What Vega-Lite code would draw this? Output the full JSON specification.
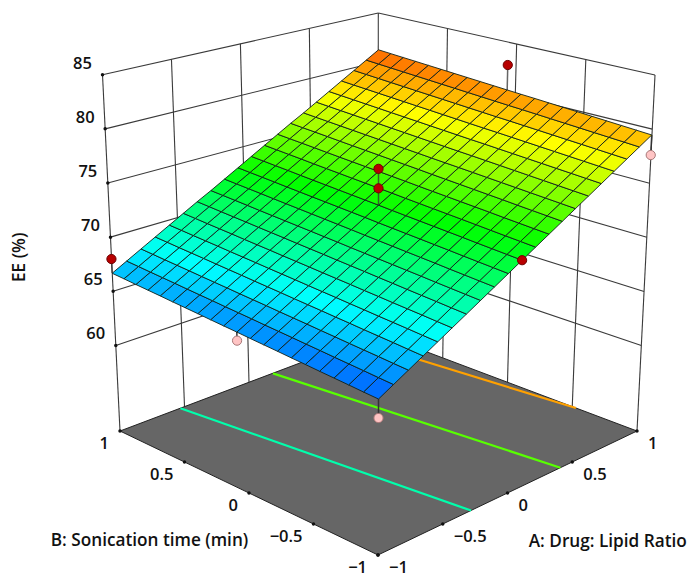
{"$schema":"https://vega.github.io/schema/vega-lite/v6.json","width":689,"height":577,"padding":0,"autosize":{"type":"none"},"background":"white","config":{"view":{"stroke":null}},
"datasets":{
"frame":[
{"kind":"line","id":1,"a":-1,"b":1,"ee":60},{"kind":"line","id":1,"a":1,"b":1,"ee":60},{"kind":"line","id":2,"a":-1,"b":1,"ee":65},{"kind":"line","id":2,"a":1,"b":1,"ee":65},{"kind":"line","id":3,"a":-1,"b":1,"ee":70},{"kind":"line","id":3,"a":1,"b":1,"ee":70},{"kind":"line","id":4,"a":-1,"b":1,"ee":75},{"kind":"line","id":4,"a":1,"b":1,"ee":75},{"kind":"line","id":5,"a":-1,"b":1,"ee":80},{"kind":"line","id":5,"a":1,"b":1,"ee":80},{"kind":"line","id":6,"a":-1,"b":1,"ee":85},{"kind":"line","id":6,"a":1,"b":1,"ee":85},
{"kind":"line","id":7,"a":1,"b":1,"ee":60},{"kind":"line","id":7,"a":1,"b":-1,"ee":60},{"kind":"line","id":8,"a":1,"b":1,"ee":65},{"kind":"line","id":8,"a":1,"b":-1,"ee":65},{"kind":"line","id":9,"a":1,"b":1,"ee":70},{"kind":"line","id":9,"a":1,"b":-1,"ee":70},{"kind":"line","id":10,"a":1,"b":1,"ee":75},{"kind":"line","id":10,"a":1,"b":-1,"ee":75},{"kind":"line","id":11,"a":1,"b":1,"ee":80},{"kind":"line","id":11,"a":1,"b":-1,"ee":80},{"kind":"line","id":12,"a":1,"b":1,"ee":85},{"kind":"line","id":12,"a":1,"b":-1,"ee":85},
{"kind":"line","id":13,"a":-1,"b":1,"ee":52.1},{"kind":"line","id":13,"a":-1,"b":1,"ee":85},{"kind":"line","id":14,"a":-0.5,"b":1,"ee":52.1},{"kind":"line","id":14,"a":-0.5,"b":1,"ee":85},{"kind":"line","id":15,"a":0,"b":1,"ee":52.1},{"kind":"line","id":15,"a":0,"b":1,"ee":85},{"kind":"line","id":16,"a":0.5,"b":1,"ee":52.1},{"kind":"line","id":16,"a":0.5,"b":1,"ee":85},{"kind":"line","id":17,"a":1,"b":1,"ee":52.1},{"kind":"line","id":17,"a":1,"b":1,"ee":85},
{"kind":"line","id":18,"a":1,"b":0.5,"ee":52.1},{"kind":"line","id":18,"a":1,"b":0.5,"ee":85},{"kind":"line","id":19,"a":1,"b":0,"ee":52.1},{"kind":"line","id":19,"a":1,"b":0,"ee":85},{"kind":"line","id":20,"a":1,"b":-0.5,"ee":52.1},{"kind":"line","id":20,"a":1,"b":-0.5,"ee":85},{"kind":"line","id":21,"a":1,"b":-1,"ee":52.1},{"kind":"line","id":21,"a":1,"b":-1,"ee":85},
{"kind":"floor","k":0,"a":-1,"b":-1,"ee":52.1},{"kind":"floor","k":1,"a":1,"b":-1,"ee":52.1},{"kind":"floor","k":2,"a":1,"b":1,"ee":52.1},{"kind":"floor","k":3,"a":-1,"b":1,"ee":52.1},
{"kind":"tz","label":"85","a":-1,"b":1,"ee":85},{"kind":"tz","label":"80","a":-1,"b":1,"ee":80},{"kind":"tz","label":"75","a":-1,"b":1,"ee":75},{"kind":"tz","label":"70","a":-1,"b":1,"ee":70},{"kind":"tz","label":"65","a":-1,"b":1,"ee":65},{"kind":"tz","label":"60","a":-1,"b":1,"ee":60},
{"kind":"tb","label":"1","a":-1,"b":1,"ee":52.1},{"kind":"tb","label":"0.5","a":-1,"b":0.5,"ee":52.1},{"kind":"tb","label":"0","a":-1,"b":0,"ee":52.1},{"kind":"tb","label":"−0.5","a":-1,"b":-0.5,"ee":52.1},{"kind":"tb","label":"−1","a":-1,"b":-1,"ee":52.1},
{"kind":"ta","label":"1","a":1,"b":-1,"ee":52.1},{"kind":"ta","label":"0.5","a":0.5,"b":-1,"ee":52.1},{"kind":"ta","label":"0","a":0,"b":-1,"ee":52.1},{"kind":"ta","label":"−0.5","a":-0.5,"b":-1,"ee":52.1},{"kind":"ta","label":"−1","a":-1,"b":-1,"ee":52.1},
{"kind":"titleA","label":"A: Drug: Lipid Ratio","a":0.5,"b":-1,"ee":52.1},{"kind":"titleB","label":"B: Sonication time (min)","a":-1,"b":0.5,"ee":52.1},{"kind":"titleZ","label":"EE (%)","a":-1,"b":1,"ee":65}
],
"obs":[
{"kind":"contour","id":"c70","level":70,"a":-0.341,"b":-1,"ee":51.56,"above":false},{"kind":"contour","id":"c70","level":70,"a":-0.572,"b":1,"ee":51.56,"above":false},
{"kind":"contour","id":"c75","level":75,"a":0.353,"b":-1,"ee":51.56,"above":false},{"kind":"contour","id":"c75","level":75,"a":0.128,"b":1,"ee":51.56,"above":false},
{"kind":"contour","id":"c80","level":80,"a":1,"b":-0.567,"ee":51.56,"above":false},{"kind":"contour","id":"c80","level":80,"a":0.828,"b":1,"ee":51.56,"above":false},
{"kind":"stem","id":"p1","a":-1,"b":-1,"ee":63.63,"above":false},{"kind":"stem","id":"p1","a":-1,"b":-1,"ee":65.25,"above":false},
{"kind":"stem","id":"p2","a":1,"b":-1,"ee":77.85,"above":false},{"kind":"stem","id":"p2","a":1,"b":-1,"ee":79.66,"above":false},
{"kind":"stem","id":"p4","a":-1,"b":0,"ee":65.32,"above":false},{"kind":"stem","id":"p4","a":-1,"b":0,"ee":66.1,"above":false},
{"kind":"stem","id":"p3","a":-1,"b":1,"ee":68.26,"above":true},{"kind":"stem","id":"p3","a":-1,"b":1,"ee":66.94,"above":true},
{"kind":"stem","id":"p6","a":1,"b":0,"ee":82.8,"above":true},{"kind":"stem","id":"p6","a":1,"b":0,"ee":80.45,"above":true},
{"kind":"stem","id":"p7","a":0,"b":0,"ee":76.6,"above":true},{"kind":"stem","id":"p7","a":0,"b":0,"ee":73.28,"above":true},
{"kind":"point","id":"p1","a":-1,"b":-1,"ee":63.63,"above":false},{"kind":"point","id":"p2","a":1,"b":-1,"ee":77.85,"above":false},{"kind":"point","id":"p4","a":-1,"b":0,"ee":65.32,"above":false},
{"kind":"point","id":"p3","a":-1,"b":1,"ee":68.26,"above":true},{"kind":"point","id":"p5","a":0,"b":-1,"ee":72.46,"above":true},{"kind":"point","id":"p6","a":1,"b":0,"ee":82.8,"above":true},{"kind":"point","id":"p7","a":0,"b":0,"ee":76.6,"above":true},{"kind":"point","id":"p8","a":0,"b":0,"ee":74.82,"above":true}
],
"nodes":[
{"id":0,"ee":65.25},{"id":100,"ee":65.97},{"id":200,"ee":66.69},{"id":300,"ee":67.41},{"id":400,"ee":68.13},{"id":500,"ee":68.85},{"id":600,"ee":69.57},{"id":700,"ee":70.29},{"id":800,"ee":71.01},{"id":900,"ee":71.73},{"id":1000,"ee":72.46},{"id":1100,"ee":73.18},{"id":1200,"ee":73.9},{"id":1300,"ee":74.62},{"id":1400,"ee":75.34},{"id":1500,"ee":76.06},{"id":1600,"ee":76.78},{"id":1700,"ee":77.5},{"id":1800,"ee":78.22},{"id":1900,"ee":78.94},{"id":2000,"ee":79.66},
{"id":1,"ee":65.33},{"id":101,"ee":66.05},{"id":201,"ee":66.77},{"id":301,"ee":67.49},{"id":401,"ee":68.21},{"id":501,"ee":68.93},{"id":601,"ee":69.65},{"id":701,"ee":70.37},{"id":801,"ee":71.09},{"id":901,"ee":71.81},{"id":1001,"ee":72.54},{"id":1101,"ee":73.26},{"id":1201,"ee":73.98},{"id":1301,"ee":74.7},{"id":1401,"ee":75.42},{"id":1501,"ee":76.14},{"id":1601,"ee":76.86},{"id":1701,"ee":77.58},{"id":1801,"ee":78.3},{"id":1901,"ee":79.02},{"id":2001,"ee":79.74},
{"id":2,"ee":65.42},{"id":102,"ee":66.14},{"id":202,"ee":66.86},{"id":302,"ee":67.58},{"id":402,"ee":68.3},{"id":502,"ee":69.02},{"id":602,"ee":69.74},{"id":702,"ee":70.45},{"id":802,"ee":71.17},{"id":902,"ee":71.89},{"id":1002,"ee":72.62},{"id":1102,"ee":73.34},{"id":1202,"ee":74.06},{"id":1302,"ee":74.78},{"id":1402,"ee":75.5},{"id":1502,"ee":76.22},{"id":1602,"ee":76.94},{"id":1702,"ee":77.66},{"id":1802,"ee":78.38},{"id":1902,"ee":79.1},{"id":2002,"ee":79.82},
{"id":3,"ee":65.5},{"id":103,"ee":66.22},{"id":203,"ee":66.94},{"id":303,"ee":67.66},{"id":403,"ee":68.38},{"id":503,"ee":69.1},{"id":603,"ee":69.82},{"id":703,"ee":70.53},{"id":803,"ee":71.25},{"id":903,"ee":71.97},{"id":1003,"ee":72.7},{"id":1103,"ee":73.42},{"id":1203,"ee":74.14},{"id":1303,"ee":74.86},{"id":1403,"ee":75.58},{"id":1503,"ee":76.3},{"id":1603,"ee":77.02},{"id":1703,"ee":77.74},{"id":1803,"ee":78.46},{"id":1903,"ee":79.18},{"id":2003,"ee":79.9},
{"id":4,"ee":65.58},{"id":104,"ee":66.3},{"id":204,"ee":67.02},{"id":304,"ee":67.74},{"id":404,"ee":68.46},{"id":504,"ee":69.18},{"id":604,"ee":69.9},{"id":704,"ee":70.62},{"id":804,"ee":71.34},{"id":904,"ee":72.06},{"id":1004,"ee":72.79},{"id":1104,"ee":73.51},{"id":1204,"ee":74.23},{"id":1304,"ee":74.95},{"id":1404,"ee":75.66},{"id":1504,"ee":76.38},{"id":1604,"ee":77.1},{"id":1704,"ee":77.82},{"id":1804,"ee":78.54},{"id":1904,"ee":79.26},{"id":2004,"ee":79.98},
{"id":5,"ee":65.67},{"id":105,"ee":66.39},{"id":205,"ee":67.11},{"id":305,"ee":67.83},{"id":405,"ee":68.55},{"id":505,"ee":69.27},{"id":605,"ee":69.99},{"id":705,"ee":70.7},{"id":805,"ee":71.42},{"id":905,"ee":72.14},{"id":1005,"ee":72.87},{"id":1105,"ee":73.59},{"id":1205,"ee":74.31},{"id":1305,"ee":75.03},{"id":1405,"ee":75.74},{"id":1505,"ee":76.46},{"id":1605,"ee":77.18},{"id":1705,"ee":77.9},{"id":1805,"ee":78.62},{"id":1905,"ee":79.34},{"id":2005,"ee":80.06},
{"id":6,"ee":65.75},{"id":106,"ee":66.47},{"id":206,"ee":67.19},{"id":306,"ee":67.91},{"id":406,"ee":68.63},{"id":506,"ee":69.35},{"id":606,"ee":70.07},{"id":706,"ee":70.78},{"id":806,"ee":71.5},{"id":906,"ee":72.22},{"id":1006,"ee":72.95},{"id":1106,"ee":73.67},{"id":1206,"ee":74.39},{"id":1306,"ee":75.11},{"id":1406,"ee":75.82},{"id":1506,"ee":76.54},{"id":1606,"ee":77.26},{"id":1706,"ee":77.98},{"id":1806,"ee":78.7},{"id":1906,"ee":79.42},{"id":2006,"ee":80.14},
{"id":7,"ee":65.84},{"id":107,"ee":66.56},{"id":207,"ee":67.28},{"id":307,"ee":68},{"id":407,"ee":68.72},{"id":507,"ee":69.44},{"id":607,"ee":70.16},{"id":707,"ee":70.86},{"id":807,"ee":71.58},{"id":907,"ee":72.3},{"id":1007,"ee":73.03},{"id":1107,"ee":73.75},{"id":1207,"ee":74.47},{"id":1307,"ee":75.19},{"id":1407,"ee":75.9},{"id":1507,"ee":76.62},{"id":1607,"ee":77.34},{"id":1707,"ee":78.06},{"id":1807,"ee":78.78},{"id":1907,"ee":79.5},{"id":2007,"ee":80.22},
{"id":8,"ee":65.92},{"id":108,"ee":66.64},{"id":208,"ee":67.36},{"id":308,"ee":68.08},{"id":408,"ee":68.8},{"id":508,"ee":69.52},{"id":608,"ee":70.24},{"id":708,"ee":70.94},{"id":808,"ee":71.66},{"id":908,"ee":72.38},{"id":1008,"ee":73.11},{"id":1108,"ee":73.83},{"id":1208,"ee":74.55},{"id":1308,"ee":75.27},{"id":1408,"ee":75.98},{"id":1508,"ee":76.7},{"id":1608,"ee":77.42},{"id":1708,"ee":78.14},{"id":1808,"ee":78.86},{"id":1908,"ee":79.58},{"id":2008,"ee":80.3},
{"id":9,"ee":66},{"id":109,"ee":66.72},{"id":209,"ee":67.44},{"id":309,"ee":68.16},{"id":409,"ee":68.88},{"id":509,"ee":69.6},{"id":609,"ee":70.32},{"id":709,"ee":71.02},{"id":809,"ee":71.74},{"id":909,"ee":72.46},{"id":1009,"ee":73.19},{"id":1109,"ee":73.91},{"id":1209,"ee":74.63},{"id":1309,"ee":75.35},{"id":1409,"ee":76.05},{"id":1509,"ee":76.77},{"id":1609,"ee":77.49},{"id":1709,"ee":78.21},{"id":1809,"ee":78.93},{"id":1909,"ee":79.65},{"id":2009,"ee":80.37},
{"id":10,"ee":66.09},{"id":110,"ee":66.81},{"id":210,"ee":67.53},{"id":310,"ee":68.25},{"id":410,"ee":68.97},{"id":510,"ee":69.69},{"id":610,"ee":70.41},{"id":710,"ee":71.11},{"id":810,"ee":71.83},{"id":910,"ee":72.55},{"id":1010,"ee":73.28},{"id":1110,"ee":74},{"id":1210,"ee":74.72},{"id":1310,"ee":75.44},{"id":1410,"ee":76.13},{"id":1510,"ee":76.85},{"id":1610,"ee":77.57},{"id":1710,"ee":78.29},{"id":1810,"ee":79.01},{"id":1910,"ee":79.73},{"id":2010,"ee":80.45},
{"id":11,"ee":66.17},{"id":111,"ee":66.89},{"id":211,"ee":67.61},{"id":311,"ee":68.33},{"id":411,"ee":69.05},{"id":511,"ee":69.77},{"id":611,"ee":70.49},{"id":711,"ee":71.19},{"id":811,"ee":71.91},{"id":911,"ee":72.63},{"id":1011,"ee":73.36},{"id":1111,"ee":74.08},{"id":1211,"ee":74.8},{"id":1311,"ee":75.52},{"id":1411,"ee":76.21},{"id":1511,"ee":76.93},{"id":1611,"ee":77.65},{"id":1711,"ee":78.37},{"id":1811,"ee":79.09},{"id":1911,"ee":79.81},{"id":2011,"ee":80.53},
{"id":12,"ee":66.25},{"id":112,"ee":66.97},{"id":212,"ee":67.69},{"id":312,"ee":68.41},{"id":412,"ee":69.13},{"id":512,"ee":69.85},{"id":612,"ee":70.57},{"id":712,"ee":71.27},{"id":812,"ee":71.99},{"id":912,"ee":72.71},{"id":1012,"ee":73.44},{"id":1112,"ee":74.16},{"id":1212,"ee":74.88},{"id":1312,"ee":75.6},{"id":1412,"ee":76.29},{"id":1512,"ee":77.01},{"id":1612,"ee":77.73},{"id":1712,"ee":78.45},{"id":1812,"ee":79.17},{"id":1912,"ee":79.89},{"id":2012,"ee":80.61},
{"id":13,"ee":66.34},{"id":113,"ee":67.06},{"id":213,"ee":67.78},{"id":313,"ee":68.5},{"id":413,"ee":69.22},{"id":513,"ee":69.94},{"id":613,"ee":70.66},{"id":713,"ee":71.35},{"id":813,"ee":72.07},{"id":913,"ee":72.79},{"id":1013,"ee":73.52},{"id":1113,"ee":74.24},{"id":1213,"ee":74.96},{"id":1313,"ee":75.68},{"id":1413,"ee":76.37},{"id":1513,"ee":77.09},{"id":1613,"ee":77.81},{"id":1713,"ee":78.53},{"id":1813,"ee":79.25},{"id":1913,"ee":79.97},{"id":2013,"ee":80.69},
{"id":14,"ee":66.42},{"id":114,"ee":67.14},{"id":214,"ee":67.86},{"id":314,"ee":68.58},{"id":414,"ee":69.3},{"id":514,"ee":70.02},{"id":614,"ee":70.74},{"id":714,"ee":71.43},{"id":814,"ee":72.15},{"id":914,"ee":72.87},{"id":1014,"ee":73.6},{"id":1114,"ee":74.32},{"id":1214,"ee":75.04},{"id":1314,"ee":75.76},{"id":1414,"ee":76.45},{"id":1514,"ee":77.17},{"id":1614,"ee":77.89},{"id":1714,"ee":78.61},{"id":1814,"ee":79.33},{"id":1914,"ee":80.05},{"id":2014,"ee":80.77},
{"id":15,"ee":66.5},{"id":115,"ee":67.22},{"id":215,"ee":67.94},{"id":315,"ee":68.66},{"id":415,"ee":69.38},{"id":515,"ee":70.1},{"id":615,"ee":70.82},{"id":715,"ee":71.51},{"id":815,"ee":72.23},{"id":915,"ee":72.95},{"id":1015,"ee":73.68},{"id":1115,"ee":74.4},{"id":1215,"ee":75.12},{"id":1315,"ee":75.84},{"id":1415,"ee":76.53},{"id":1515,"ee":77.25},{"id":1615,"ee":77.97},{"id":1715,"ee":78.69},{"id":1815,"ee":79.41},{"id":1915,"ee":80.13},{"id":2015,"ee":80.85},
{"id":16,"ee":66.59},{"id":116,"ee":67.31},{"id":216,"ee":68.03},{"id":316,"ee":68.75},{"id":416,"ee":69.47},{"id":516,"ee":70.19},{"id":616,"ee":70.91},{"id":716,"ee":71.59},{"id":816,"ee":72.31},{"id":916,"ee":73.03},{"id":1016,"ee":73.76},{"id":1116,"ee":74.48},{"id":1216,"ee":75.2},{"id":1316,"ee":75.92},{"id":1416,"ee":76.61},{"id":1516,"ee":77.33},{"id":1616,"ee":78.05},{"id":1716,"ee":78.77},{"id":1816,"ee":79.49},{"id":1916,"ee":80.21},{"id":2016,"ee":80.93},
{"id":17,"ee":66.67},{"id":117,"ee":67.39},{"id":217,"ee":68.11},{"id":317,"ee":68.83},{"id":417,"ee":69.55},{"id":517,"ee":70.27},{"id":617,"ee":70.99},{"id":717,"ee":71.68},{"id":817,"ee":72.4},{"id":917,"ee":73.12},{"id":1017,"ee":73.85},{"id":1117,"ee":74.57},{"id":1217,"ee":75.29},{"id":1317,"ee":76.01},{"id":1417,"ee":76.69},{"id":1517,"ee":77.41},{"id":1617,"ee":78.13},{"id":1717,"ee":78.85},{"id":1817,"ee":79.57},{"id":1917,"ee":80.29},{"id":2017,"ee":81.01},
{"id":18,"ee":66.75},{"id":118,"ee":67.47},{"id":218,"ee":68.19},{"id":318,"ee":68.91},{"id":418,"ee":69.63},{"id":518,"ee":70.35},{"id":618,"ee":71.07},{"id":718,"ee":71.76},{"id":818,"ee":72.48},{"id":918,"ee":73.2},{"id":1018,"ee":73.93},{"id":1118,"ee":74.65},{"id":1218,"ee":75.37},{"id":1318,"ee":76.09},{"id":1418,"ee":76.77},{"id":1518,"ee":77.49},{"id":1618,"ee":78.21},{"id":1718,"ee":78.93},{"id":1818,"ee":79.65},{"id":1918,"ee":80.37},{"id":2018,"ee":81.09},
{"id":19,"ee":66.84},{"id":119,"ee":67.56},{"id":219,"ee":68.28},{"id":319,"ee":69},{"id":419,"ee":69.72},{"id":519,"ee":70.44},{"id":619,"ee":71.16},{"id":719,"ee":71.84},{"id":819,"ee":72.56},{"id":919,"ee":73.28},{"id":1019,"ee":74.01},{"id":1119,"ee":74.73},{"id":1219,"ee":75.45},{"id":1319,"ee":76.17},{"id":1419,"ee":76.85},{"id":1519,"ee":77.57},{"id":1619,"ee":78.29},{"id":1719,"ee":79.01},{"id":1819,"ee":79.73},{"id":1919,"ee":80.45},{"id":2019,"ee":81.17},
{"id":20,"ee":66.92},{"id":120,"ee":67.64},{"id":220,"ee":68.36},{"id":320,"ee":69.08},{"id":420,"ee":69.8},{"id":520,"ee":70.52},{"id":620,"ee":71.24},{"id":720,"ee":71.92},{"id":820,"ee":72.64},{"id":920,"ee":73.36},{"id":1020,"ee":74.09},{"id":1120,"ee":74.81},{"id":1220,"ee":75.53},{"id":1320,"ee":76.25},{"id":1420,"ee":76.93},{"id":1520,"ee":77.65},{"id":1620,"ee":78.37},{"id":1720,"ee":79.09},{"id":1820,"ee":79.81},{"id":1920,"ee":80.53},{"id":2020,"ee":81.25}
]},
"encoding":{"x":{"field":"sx","type":"quantitative","scale":{"domain":[0,689],"nice":false,"zero":false},"axis":null},"y":{"field":"sy","type":"quantitative","scale":{"domain":[577,0],"nice":false,"zero":false},"axis":null}},
"layer":[
{"data":{"name":"frame"},
"transform":[{"calculate":"(datum.a+1)/2","as":"s"},{"calculate":"(datum.b+1)/2","as":"r"},{"calculate":"(datum.ee-52.1)/32.9","as":"t"},
{"calculate":"(1-datum.s)*(1-datum.r)*378+datum.s*(1-datum.r)*(637+18*datum.t)+(1-datum.s)*datum.r*(120-17.5*datum.t)+datum.s*datum.r*(378+0.3*datum.t)","as":"sx"},
{"calculate":"(1-datum.s)*(1-datum.r)*(555-399*datum.t)+datum.s*(1-datum.r)*(431-356*datum.t)+(1-datum.s)*datum.r*(431-356.3*datum.t)+datum.s*datum.r*(333.5-320.5*datum.t)","as":"sy"}],
"layer":[
{"transform":[{"filter":"datum.kind=='line'"}],"mark":{"type":"line","stroke":"#3a3a3a","strokeWidth":1.1},"encoding":{"detail":{"field":"id"}}},
{"transform":[{"filter":"datum.kind=='floor'"}],"mark":{"type":"line","interpolate":"linear-closed","fill":"#666666","stroke":"#222222","strokeWidth":1},"encoding":{"order":{"field":"k"}}},
{"transform":[{"filter":"datum.kind=='tz'||datum.kind=='ta'||datum.kind=='tb'"}],"mark":{"type":"point","filled":true,"color":"#111111","size":12,"opacity":1}},
{"transform":[{"filter":"datum.kind=='tz'"}],"mark":{"type":"text","font":"Open Sans","fontWeight":600,"fontSize":16.5,"fill":"#111","dx":-20,"dy":-11,"align":"center","baseline":"middle"},"encoding":{"text":{"field":"label"}}},
{"transform":[{"filter":"datum.kind=='tb'"}],"mark":{"type":"text","font":"Open Sans","fontWeight":600,"fontSize":16.5,"fill":"#111","dx":-11,"dy":12.5,"align":"right","baseline":"middle"},"encoding":{"text":{"field":"label"}}},
{"transform":[{"filter":"datum.kind=='ta'"}],"mark":{"type":"text","font":"Open Sans","fontWeight":600,"fontSize":16.5,"fill":"#111","dx":11,"dy":12.5,"align":"left","baseline":"middle"},"encoding":{"text":{"field":"label"}}},
{"transform":[{"filter":"datum.kind=='titleA'"}],"mark":{"type":"text","font":"Open Sans","fontWeight":600,"fontSize":17.2,"fill":"#111","dx":35.5,"dy":79.5,"align":"center","baseline":"middle"},"encoding":{"text":{"field":"label"}}},
{"transform":[{"filter":"datum.kind=='titleB'"}],"mark":{"type":"text","font":"Open Sans","fontWeight":600,"fontSize":17.2,"fill":"#111","dx":-35,"dy":78.5,"align":"center","baseline":"middle"},"encoding":{"text":{"field":"label"}}},
{"transform":[{"filter":"datum.kind=='titleZ'"}],"mark":{"type":"text","font":"Open Sans","fontWeight":600,"fontSize":17.2,"fill":"#111","dx":34,"dy":-93,"angle":270,"align":"center","baseline":"middle"},"encoding":{"text":{"field":"label"}}}
]},
{"data":{"name":"obs"},
"transform":[{"filter":"!datum.above"},{"calculate":"(datum.ee-51.56)*0.0299","as":"t"},{"calculate":"1+0.0598*(datum.a+datum.b)-0.0642*datum.t","as":"w"},{"calculate":"378.5+129.25*(datum.a-datum.b)/datum.w","as":"sx"},{"calculate":"(431-28.8*(datum.a+datum.b)-361*datum.t)/datum.w","as":"sy"}],
"layer":[
{"transform":[{"filter":"datum.kind=='contour'"}],"mark":{"type":"line","strokeWidth":2.2},"encoding":{"detail":{"field":"id"},"stroke":{"field":"level","type":"quantitative","legend":null,"scale":{"domain":[63.5,68.4,73.3,78.2,83.1],"range":["#0000ff","#00ffff","#00ff00","#ffff00","#ff0000"],"interpolate":"rgb"}}}},
{"transform":[{"filter":"datum.kind=='stem'"}],"mark":{"type":"line","stroke":"#333333","strokeWidth":1.5},"encoding":{"detail":{"field":"id"}}},
{"transform":[{"filter":"datum.kind=='point'"}],"mark":{"type":"point","filled":true,"fill":"#ffc4c4","stroke":"#a87878","strokeWidth":1,"size":85,"opacity":1}}
]},
{"data":{"name":"nodes"},
"transform":[{"calculate":"floor(datum.id/100)","as":"i"},{"calculate":"datum.id%100","as":"j"},{"filter":"datum.i<20&&datum.j<20"},{"calculate":"[0,1,2,3]","as":"k"},{"flatten":["k"]},{"calculate":"datum.i+((datum.k==1||datum.k==2)?1:0)","as":"vi"},{"calculate":"datum.j+(datum.k>=2?1:0)","as":"vj"},{"calculate":"datum.vi*100+datum.vj","as":"vid"},{"lookup":"vid","from":{"data":{"name":"nodes"},"key":"id","fields":["ee"]},"as":["vee"]},{"joinaggregate":[{"op":"mean","field":"vee","as":"cz"}],"groupby":["id"]},
{"calculate":"datum.vi/10-1","as":"a"},{"calculate":"datum.vj/10-1","as":"b"},{"calculate":"(datum.vee-51.56)*0.0299","as":"t"},{"calculate":"1+0.0598*(datum.a+datum.b)-0.0642*datum.t","as":"w"},{"calculate":"378.5+129.25*(datum.a-datum.b)/datum.w","as":"sx"},{"calculate":"(431-28.8*(datum.a+datum.b)-361*datum.t)/datum.w","as":"sy"}],
"mark":{"type":"line","interpolate":"linear-closed","stroke":"#10201a","strokeWidth":0.9},
"encoding":{"detail":{"field":"id"},"order":{"field":"k"},"fill":{"field":"cz","type":"quantitative","legend":null,"scale":{"domain":[63.5,68.4,73.3,78.2,83.1],"range":["#0000ff","#00ffff","#00ff00","#ffff00","#ff0000"],"interpolate":"rgb"}}}},
{"data":{"name":"obs"},
"transform":[{"filter":"datum.above"},{"calculate":"(datum.ee-51.56)*0.0299","as":"t"},{"calculate":"1+0.0598*(datum.a+datum.b)-0.0642*datum.t","as":"w"},{"calculate":"378.5+129.25*(datum.a-datum.b)/datum.w","as":"sx"},{"calculate":"(431-28.8*(datum.a+datum.b)-361*datum.t)/datum.w","as":"sy"}],
"layer":[
{"transform":[{"filter":"datum.kind=='stem'"}],"mark":{"type":"line","stroke":"#333333","strokeOpacity":0.75,"strokeWidth":1.5},"encoding":{"detail":{"field":"id"}}},
{"transform":[{"filter":"datum.kind=='point'"}],"mark":{"type":"point","filled":true,"fill":"#b80000","stroke":"#6e0000","strokeWidth":1,"size":85,"opacity":1}}
]}
]}
